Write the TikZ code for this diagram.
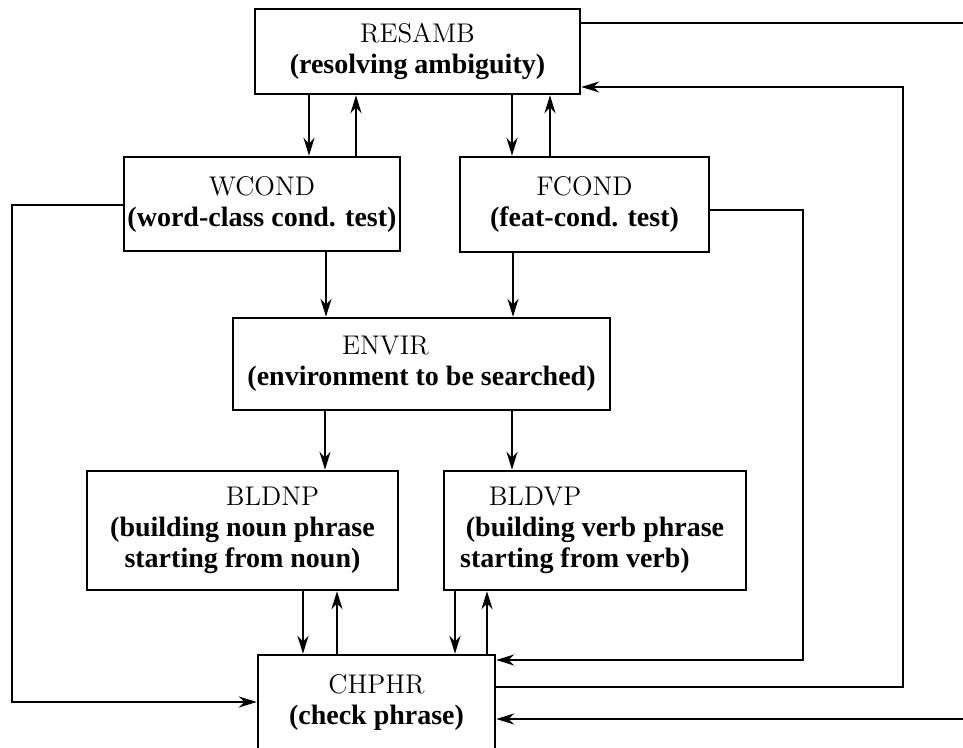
\documentclass[tikz,border=0pt]{standalone}
\usepackage{fontspec}
\newfontfamily\descfam{Liberation Serif}
\usetikzlibrary{arrows.meta}
\newcommand{\ttl}[1]{{\rmfamily\mdseries\fontsize{13.5pt}{15.5pt}\selectfont #1}}
\begin{document}
\begin{tikzpicture}[x=0.5pt,y=-0.5pt,
  box/.style={draw, line width=1.2pt, inner sep=0pt, align=center,
    font=\descfam\bfseries\fontsize{14pt}{15.5pt}\selectfont},
  ln/.style={line width=1.3pt},
  arr/.style={line width=1.3pt, -{Stealth[length=9pt,width=5.5pt]}}]
\clip (0,0) rectangle (963,748);
\fill[white] (0,0) rectangle (963,748);

% boxes
\node[box, minimum width=162.5pt, minimum height=42.5pt] (resamb) at (417.5,51.5)
  {\ttl{RESAMB}\\(resolving ambiguity)};
\node[box, minimum width=138pt, minimum height=47pt] (wcond) at (262,204)
  {\ttl{WCOND}\\(word-class cond. test)};
\node[box, minimum width=124.5pt, minimum height=47.5pt] (fcond) at (584.5,204.5)
  {\ttl{FCOND}\\(feat-cond. test)};
\node[box, minimum width=188.5pt, minimum height=46pt] (envir) at (421.5,364)
  {\hspace*{-36pt}\ttl{ENVIR}\\(environment to be searched)};
\node[box, minimum width=155.5pt, minimum height=59.5pt] (bldnp) at (242.5,530.5)
  {\hspace*{30pt}\ttl{BLDNP}\\(building noun phrase\\starting from noun)};
\node[box, minimum width=151pt, minimum height=59.5pt] (bldvp) at (595,530.5)
  {\hspace*{-60pt}\ttl{BLDVP}\\(building verb phrase\\\hspace*{-20pt}starting from verb)};
\node[box, minimum width=118.5pt, minimum height=47pt] (chphr) at (376.5,702)
  {\ttl{CHPHR}\\(check phrase)};

% column coordinates
\coordinate (a1) at (309,0);
\coordinate (a2) at (356,0);
\coordinate (a3) at (512,0);
\coordinate (a4) at (550,0);
\coordinate (b1) at (326,0);
\coordinate (b2) at (513,0);
\coordinate (c1) at (325,0);
\coordinate (c2) at (512,0);
\coordinate (d1) at (303,0);
\coordinate (d2) at (337,0);
\coordinate (d3) at (455,0);
\coordinate (d4) at (487,0);

% vertical connectors
\draw[arr] (resamb.south -| a1) -- (wcond.north -| a1);
\draw[arr] (wcond.north -| a2) -- (resamb.south -| a2);
\draw[arr] (resamb.south -| a3) -- (fcond.north -| a3);
\draw[arr] (fcond.north -| a4) -- (resamb.south -| a4);
\draw[arr] (wcond.south -| b1) -- (envir.north -| b1);
\draw[arr] (fcond.south -| b2) -- (envir.north -| b2);
\draw[arr] (envir.south -| c1) -- (bldnp.north -| c1);
\draw[arr] (envir.south -| c2) -- (bldvp.north -| c2);
\draw[arr] (bldnp.south -| d1) -- (chphr.north -| d1);
\draw[arr] (chphr.north -| d2) -- (bldnp.south -| d2);
\draw[arr] (bldvp.south -| d3) -- (chphr.north -| d3);
\draw[arr] (chphr.north -| d4) -- (bldvp.south -| d4);

% loop rails
\coordinate (wl1) at (12,205);
\coordinate (wl2) at (12,702);
\draw[arr] (wcond.west |- wl1) -- (wl1) -- (wl2) -- (chphr.west |- wl2);

\coordinate (fr1) at (803,210);
\coordinate (fr2) at (803,660);
\draw[arr] (fcond.east |- fr1) -- (fr1) -- (fr2) -- (chphr.east |- fr2);

\coordinate (cr1) at (903,687);
\coordinate (cr2) at (903,87);
\draw[arr] (chphr.east |- cr1) -- (cr1) -- (cr2) -- (resamb.east |- cr2);

\coordinate (rout) at (975,23);
\draw[ln] (resamb.east |- rout) -- (rout);

\coordinate (bin) at (975,719);
\draw[arr] (bin) -- (chphr.east |- bin);
\end{tikzpicture}
\end{document}
